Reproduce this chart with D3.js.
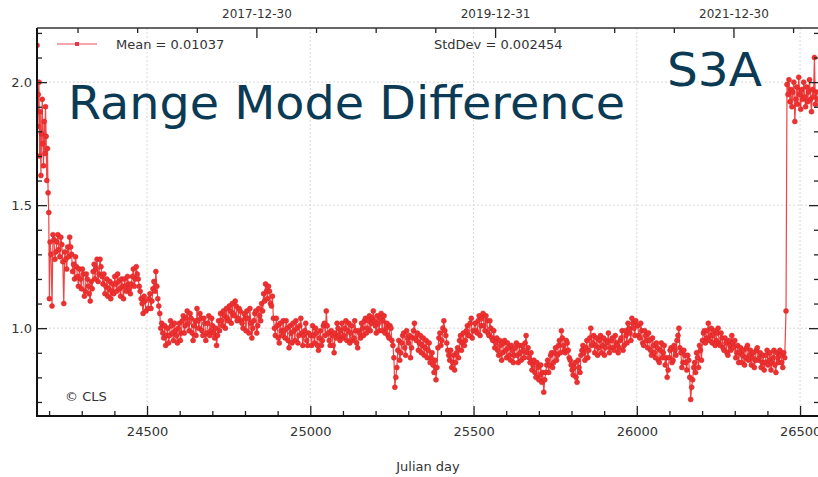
<!DOCTYPE html>
<html><head><meta charset="utf-8">
<script src="https://cdn.jsdelivr.net/npm/d3@7"></script>
<style>body{margin:0;background:#fff}svg{display:block}text{font-family:"DejaVu Sans",sans-serif}</style>
</head><body><svg id="c" width="818" height="477"></svg>
<script>
// ---- data (CNES Julian day, value) ----
const seg0Start = 24163, seg0Step = 2;
const seg0Values = [2.15,1.82,1.95,2.00,1.70,1.88,1.62,1.79,1.93,1.75,1.66,1.84,1.71,1.90,1.78,1.60,1.73,1.55,1.47,1.12];
const seg1Start = 24203, seg1Step = 6;
const seg1Values = [1.35,1.09,1.36,1.31,1.38,1.29,1.34,1.10,1.28,1.33,1.37,1.30,1.26,1.29,1.21,1.24,1.16,1.22,1.15,1.20,
  1.14,1.19,1.23,1.20,1.28,1.22,1.25,1.18,1.14,1.20,1.16,1.12,1.18,1.21,1.15,1.19,1.13,1.17,1.20,1.15,
  1.18,1.14,1.21,1.17,1.25,1.20,1.15,1.10,1.13,1.07];
const seg1bValues = [1.30,1.38,1.28,1.35,1.32,1.37,1.27,1.31,1.24,1.29,1.33,1.23,1.20,1.25,1.17,1.20,1.24,1.13,1.22,1.17,
  1.11,1.16,1.26,1.24,1.19,1.28,1.21,1.22,1.17,1.13,1.19,1.15,1.14,1.18,1.22,1.16,1.20,1.12,1.17,1.21,
  1.16,1.18,1.24,1.20,1.22,1.17,1.12,1.06,1.11];
const seg2Start = 24503, seg2Step = 6;
const seg2Values = [1.08,1.14,1.11,1.19,1.23,1.12,1.06,1.02,0.96,0.93,1.00,0.97,1.01,0.95,0.99,0.94,1.02,0.98,1.05,1.01,
  1.07,0.99,1.04,0.95,1.03,1.08,1.00,1.04,0.97,1.02,0.98,1.05,0.99,1.01,0.96,0.93,1.03,1.06,1.01,1.05,
  1.08,1.03,1.07,1.10,1.05,1.09,1.04,1.07,1.02,1.06,0.99,1.04,1.08,0.96,1.03,1.07,1.01,1.05,1.10,1.14,
  1.18,1.12,1.15,1.09,1.04,0.97,1.01,0.94,0.99,1.03,0.96,1.00,0.92,0.98,1.02,0.95,1.00,0.97,1.04,0.93,
  0.99,0.95,0.98];
const seg2bValues = [1.12,1.08,1.16,1.15,1.17,1.09,1.00,0.98,1.01,0.97,0.94,1.03,0.98,1.02,0.97,1.00,0.95,1.03,0.98,1.04,
  1.02,1.06,0.98,1.01,0.97,1.03,1.06,0.99,1.04,0.95,1.02,0.97,1.04,0.98,1.00,0.97,0.99,1.03,1.07,1.00,
  1.04,1.09,1.02,1.06,1.11,1.03,1.08,1.03,1.00,1.04,1.07,0.98,1.02,1.00,1.06,0.98,1.08,1.03,1.07,1.11,
  1.15,1.17,1.10,1.13,1.00,1.04,0.96,1.02,0.97,0.99,1.03,0.95,1.01,0.94,0.99,1.03,0.94,1.01,0.98,0.97,
  1.02,0.93];
const seg3Start = 25001, seg3Step = 6;
const seg3Values = [0.97,1.01,0.94,0.98,0.91,0.99,0.95,1.02,1.07,0.98,0.93,0.97,0.90,0.96,1.00,0.95,1.02,0.97,1.03,0.99,
  0.94,1.01,0.96,0.99,0.92,0.98,1.02,0.97,1.04,1.00,1.05,1.02,1.07,1.01,1.05,0.99,1.06,1.03,0.98,1.02,
  0.96,1.00,0.93,0.76,0.84,0.95,0.90,0.97,0.92,0.99,0.94,0.88,0.96,1.02,0.95,0.91,0.97,0.93,0.89,0.95,
  0.91,0.86,0.90,0.82,0.79,0.92,0.98,0.95,1.03,0.97,0.91,0.87,0.84,0.89,0.86,0.92,0.95,0.91,0.98,0.95,
  1.01,0.97,1.04,0.99];
const seg3bValues = [0.93,0.97,1.00,0.93,0.96,0.93,1.01,0.97,1.01,0.95,0.99,0.93,0.98,1.02,0.97,0.99,0.96,1.00,0.95,1.02,
  0.98,0.95,1.03,0.94,0.99,0.96,1.00,1.03,0.98,1.03,0.99,1.04,1.03,0.98,1.02,1.04,0.99,1.05,1.00,0.97,
  1.01,0.95,0.88,0.80,0.91,0.87,0.94,0.98,0.89,0.96,0.97,0.92,0.99,0.96,0.98,0.94,0.90,0.96,0.92,0.88,
  0.94,0.88,0.85,0.87,0.84,0.96,0.93,1.00,0.99,0.94,0.89,0.91,0.86,0.83,0.90,0.88,0.97,0.94,0.93,0.99,
  0.97,1.02,0.96];
const seg4Start = 25505, seg4Step = 6;
const seg4Values = [1.02,0.98,1.05,1.01,1.06,0.99,1.03,0.97,1.00,0.95,0.92,0.96,0.89,0.93,0.90,0.95,0.88,0.92,0.87,0.91,
  0.89,0.94,0.86,0.90,0.93,0.88,0.97,0.92,0.86,0.83,0.87,0.80,0.84,0.81,0.78,0.74,0.82,0.87,0.85,0.90,
  0.86,0.92,0.89,0.95,0.99,0.93,0.90,0.94,0.88,0.85,0.81,0.86,0.78,0.84,0.89,0.93,0.87,0.95,0.91,1.00,
  0.94,0.90,0.96,0.92,0.97,0.93,0.89,0.95,0.98,0.92,0.96,0.91,0.94,0.90,0.95,0.99,0.93,0.97,1.02,0.98,
  1.04,1.00,1.03];
const seg4bValues = [0.99,1.03,0.97,1.04,1.01,1.05,0.98,1.03,0.96,0.99,0.94,0.91,0.95,0.87,0.94,0.91,0.94,0.89,0.93,0.86,
  0.92,0.89,0.93,0.87,0.91,0.94,0.90,0.88,0.90,0.85,0.82,0.86,0.79,0.85,0.82,0.79,0.85,0.82,0.89,0.84,
  0.90,0.87,0.93,0.90,0.96,0.91,0.95,0.91,0.87,0.83,0.84,0.80,0.87,0.82,0.91,0.90,0.92,0.88,0.96,0.93,
  0.97,0.93,0.89,0.95,0.90,0.96,0.92,0.94,0.90,0.95,0.92,0.97,0.93,0.92,0.96,0.91,0.99,0.94,1.00,0.95,
  1.02,0.97];
const seg5Start = 26003, seg5Step = 6;
const seg5Values = [1.01,0.96,0.99,0.93,0.97,0.92,0.95,0.89,0.93,0.88,0.92,0.86,0.94,0.90,0.85,0.80,0.88,0.92,0.87,0.91,
  0.95,1.00,0.90,0.86,0.89,0.83,0.87,0.71,0.79,0.86,0.90,0.84,0.91,0.95,0.99,0.96,1.02,0.97,0.94,0.99,
  0.95,1.00,0.93,0.96,0.91,0.94,0.89,0.93,0.97,0.92,0.88,0.93,0.90,0.86,0.91,0.88,0.93,0.89,0.85,0.90,
  0.87,0.92,0.88,0.84,0.89,0.86,0.91,0.87,0.83,0.88,0.85,0.90,0.86,0.89,0.84,0.88];
const seg5bValues = [0.97,1.02,0.94,0.99,0.95,0.98,0.91,0.96,0.90,0.94,0.87,0.91,0.88,0.93,0.88,0.83,0.91,0.86,0.93,0.89,
  0.97,0.92,0.84,0.91,0.86,0.89,0.80,0.76,0.84,0.82,0.88,0.93,0.87,0.98,0.94,0.99,0.95,1.00,0.97,0.93,
  0.98,0.94,0.98,0.92,0.96,0.90,0.95,0.91,0.94,0.95,0.90,0.86,0.92,0.89,0.85,0.92,0.87,0.91,0.88,0.84,
  0.91,0.87,0.90,0.86,0.83,0.89,0.85,0.90,0.86,0.91,0.82,0.88,0.91,0.86,0.90];
const seg6Start = 26457, seg6Step = 3;
const seg6Values = [1.07,1.99,1.95,2.01,1.92,1.97,1.90,1.96,2.00,1.84,1.93,1.98,1.91,2.02,1.95,1.89,1.97,1.93,2.00,1.94,
  1.90,1.98,1.92,1.96,2.01,1.93,1.88,1.97,1.94,2.10,1.91,1.96,1.93];

const xTickValues = [24500, 25000, 25500, 26000, 26500];
const yTickValues = [1.0, 1.5, 2.0];
const topTickLabels = ["2017-12-30", "2019-12-31", "2021-12-30"];
const legendMean = "Mean = 0.01037";
const legendStd = "StdDev = 0.002454";
const titleText = "Range Mode Difference";
const satText = "S3A";

// ---- build points (b-series are offset by half a step) ----
const segments = [
  [seg0Start, seg0Step, seg0Values],
  [seg1Start, seg1Step, seg1Values], [seg1Start + 3, seg1Step, seg1bValues],
  [seg2Start, seg2Step, seg2Values], [seg2Start + 3, seg2Step, seg2bValues],
  [seg3Start, seg3Step, seg3Values], [seg3Start + 3, seg3Step, seg3bValues],
  [seg4Start, seg4Step, seg4Values], [seg4Start + 3, seg4Step, seg4bValues],
  [seg5Start, seg5Step, seg5Values], [seg5Start + 3, seg5Step, seg5bValues],
  [seg6Start, seg6Step, seg6Values]];
const points = [];
segments.forEach(([s, st, vals]) => vals.forEach((v, i) => points.push({d: s + i * st, v})));
points.sort((a, b) => a.d - b.d);

const svg = d3.select("#c");
const L = 37, R = 819, T = 28, B = 416;
const x = d3.scaleLinear().domain([24163, 26558]).range([L, R]);
const y = d3.scaleLinear().domain([0.643, 2.22]).range([B, T]);

// grid
const grid = svg.append("g").attr("stroke", "#cfcfcf").attr("stroke-width", 0.8).attr("stroke-dasharray", "2,2");
grid.selectAll(".gx").data(xTickValues).join("line")
  .attr("x1", d => x(d)).attr("x2", d => x(d)).attr("y1", T).attr("y2", B);
grid.selectAll(".gy").data(yTickValues).join("line")
  .attr("x1", L).attr("x2", R).attr("y1", d => y(d)).attr("y2", d => y(d));

// data
svg.append("clipPath").attr("id", "clip").append("rect").attr("x", L).attr("y", T).attr("width", R - L).attr("height", B - T);
const dg = svg.append("g").attr("clip-path", "url(#clip)");
dg.append("path").datum(points)
  .attr("fill", "none").attr("stroke", "#f04545").attr("stroke-width", 1.2)
  .attr("d", d3.line().x(p => x(p.d)).y(p => y(p.v)));
dg.selectAll("circle").data(points).join("circle")
  .attr("cx", p => x(p.d)).attr("cy", p => y(p.v)).attr("r", 2.5)
  .attr("fill", "#ee3030").attr("stroke", "#d42424").attr("stroke-width", 0.5);

// axes
function styleAxis(g) {
  g.select(".domain").remove();
  g.selectAll(".tick line").attr("stroke", "#222").attr("stroke-width", 1.3);
  g.selectAll(".tick text").attr("fill", "#333").attr("font-family", "DejaVu Sans").attr("font-size", 13);
}
const minorX = d3.range(24200, 26501, 100).filter(d => !xTickValues.includes(d));
svg.append("g").attr("transform", `translate(0,${B})`)
  .call(d3.axisBottom(x).tickValues(xTickValues).tickSize(-10).tickPadding(11).tickFormat(d3.format("d"))).call(styleAxis);
svg.append("g").attr("transform", `translate(0,${B})`)
  .call(d3.axisBottom(x).tickValues(minorX).tickSize(-5).tickFormat("")).call(styleAxis);

const minorY = d3.range(7, 23).map(k => k / 10).filter(d => !yTickValues.some(t => Math.abs(t - d) < 1e-9));
svg.append("g").attr("transform", `translate(${L},0)`)
  .call(d3.axisLeft(y).tickValues(yTickValues).tickSize(-10).tickPadding(5).tickFormat(d3.format(".1f"))).call(styleAxis);
svg.append("g").attr("transform", `translate(${L},0)`)
  .call(d3.axisLeft(y).tickValues(minorY).tickSize(-5).tickFormat("")).call(styleAxis);
svg.append("g").attr("transform", `translate(${R},0)`)
  .call(d3.axisRight(y).tickValues(yTickValues).tickSize(-10).tickFormat("")).call(styleAxis);
svg.append("g").attr("transform", `translate(${R},0)`)
  .call(d3.axisRight(y).tickValues(minorY).tickSize(-5).tickFormat("")).call(styleAxis);

// top date axis
const dayOf = s => (Date.parse(s + "T00:00:00Z") - Date.UTC(1950, 0, 1)) / 86400000;
const topMajor = topTickLabels.map(dayOf);
const q = (topMajor[2] - topMajor[0]) / 8;
const topMinor = d3.range(-4, 13).map(k => topMajor[0] + k * q)
  .filter(d => d > 24163 && d < 26558 && !topMajor.some(m => Math.abs(m - d) < 1));
const topAxis = svg.append("g").attr("transform", `translate(0,${T})`)
  .call(d3.axisTop(x).tickValues(topMajor).tickSize(-10).tickPadding(10).tickFormat((d, i) => topTickLabels[i])).call(styleAxis);
topAxis.selectAll(".tick text").attr("font-size", 12);
svg.append("g").attr("transform", `translate(0,${T})`)
  .call(d3.axisTop(x).tickValues(topMinor).tickSize(-5).tickFormat("")).call(styleAxis);

// spines
svg.append("path").attr("d", `M${L},${T}V${B}H${R}`).attr("fill", "none").attr("stroke", "#111").attr("stroke-width", 2);
svg.append("line").attr("x1", L).attr("x2", R).attr("y1", T).attr("y2", T).attr("stroke", "#333").attr("stroke-width", 1.5);

// axis label
svg.append("text").attr("x", (L + R) / 2).attr("y", 471).attr("text-anchor", "middle")
  .attr("font-size", 13).attr("fill", "#333").text("Julian day");

// legend
svg.append("line").attr("x1", 57).attr("x2", 97).attr("y1", 44).attr("y2", 44).attr("stroke", "#ef4b55").attr("stroke-width", 1);
svg.append("rect").attr("x", 75).attr("y", 42).attr("width", 4).attr("height", 4).attr("fill", "#e8364a");
svg.append("text").attr("x", 116).attr("y", 49).attr("font-size", 13).attr("fill", "#333").text(legendMean);
svg.append("text").attr("x", 434).attr("y", 49).attr("font-size", 13).attr("fill", "#333").text(legendStd);

// copyright
svg.append("text").attr("x", 65).attr("y", 401).attr("font-size", 13).attr("fill", "#333").text("© CLS");

// title overlays
svg.append("text").attr("x", 68).attr("y", 119).attr("font-size", 46).attr("fill", "#0b3a55")
  .attr("textLength", 557).attr("lengthAdjust", "spacingAndGlyphs").text(titleText);
svg.append("text").attr("x", 667).attr("y", 86).attr("font-size", 46).attr("fill", "#0b3a55")
  .attr("textLength", 95).attr("lengthAdjust", "spacingAndGlyphs").text(satText);
</script></body></html>
